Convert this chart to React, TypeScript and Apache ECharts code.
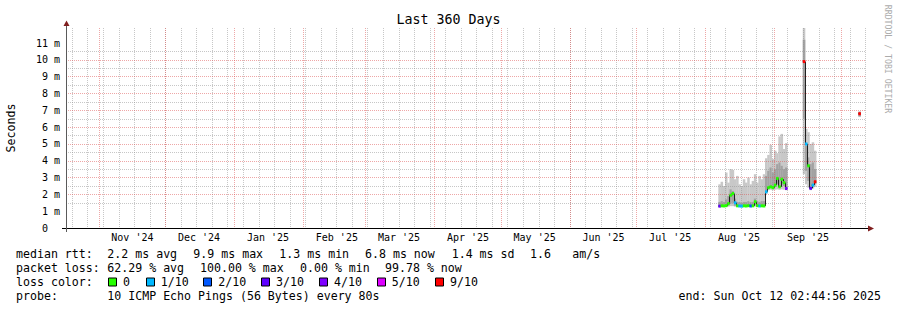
import React, { useEffect, useRef } from 'react';
import * as echarts from 'echarts';

// ---------- time frame ----------
const DAY = 86400000;
const END_TIME = Date.UTC(2025, 9, 12, 2, 44, 56);
const START_TIME = END_TIME - 360 * DAY;
const Y_MAX = 11.9; // ms
const SAMPLE_HOUR = 4;

// ---------- axis ticks ----------
const monthStarts = ['2024-11-01', '2024-12-01', '2025-01-01', '2025-02-01', '2025-03-01', '2025-04-01', '2025-05-01', '2025-06-01', '2025-07-01', '2025-08-01', '2025-09-01', '2025-10-01'];
const monthLabelDates = ['2024-11-16', '2024-12-16', '2025-01-16', '2025-02-16', '2025-03-16', '2025-04-16', '2025-05-16', '2025-06-16', '2025-07-16', '2025-08-16', '2025-09-16'];
const monthLabels = ["Nov '24", "Dec '24", "Jan '25", "Feb '25", "Mar '25", "Apr '25", "May '25", "Jun '25", "Jul '25", "Aug '25", "Sep '25"];
const firstWeekLine = '2024-10-20';
const yMajorTicks = [1, 2, 3, 4, 5, 6, 7, 8, 9, 10, 11];
const yMinorTicks = [0.5, 1.5, 2.5, 3.5, 4.5, 5.5, 6.5, 7.5, 8.5, 9.5, 10.5, 11.5];
const yLabelValues = [0, 1, 2, 3, 4, 5, 6, 7, 8, 9, 10, 11];

// ---------- samples (one per day) ----------
const sampleDates = [
  '2025-08-07', '2025-08-08', '2025-08-09', '2025-08-10', '2025-08-11', '2025-08-12', '2025-08-13', '2025-08-14', '2025-08-15', '2025-08-16', '2025-08-17',
  '2025-08-18', '2025-08-19', '2025-08-20', '2025-08-21', '2025-08-22', '2025-08-23', '2025-08-24', '2025-08-25', '2025-08-26', '2025-08-27',
  '2025-08-28', '2025-08-29', '2025-08-30', '2025-08-31', '2025-09-01', '2025-09-02', '2025-09-03', '2025-09-04', '2025-09-05', '2025-09-06',
  '2025-09-14', '2025-09-15', '2025-09-16', '2025-09-17', '2025-09-18', '2025-09-19',
  '2025-10-09',
];
const medianMs = [
  1.30, 1.32, 1.31, 1.33, 1.45, 1.95, 2.05, 1.50, 1.32, 1.31, 1.30,
  1.32, 1.31, 1.33, 1.31, 1.32, 1.56, 1.33, 1.31, 1.32, 1.31,
  2.15, 2.40, 2.45, 2.40, 2.55, 2.95, 2.45, 2.90, 2.70, 2.35,
  9.9, 5.0, 3.7, 2.36, 2.55, 2.75,
  6.8,
];
const lossTenths = [
  3, 0, 0, 0, 0, 0, 0, 1, 0, 1, 1,
  0, 0, 0, 2, 0, 0, 0, 1, 0, 0,
  1, 0, 0, 0, 0, 0, 0, 0, 0, 4,
  9, 1, 0, 3, 1, 9,
  9,
];
const smokeMin = [
  1.25, 1.26, 1.25, 1.26, 1.27, 1.30, 1.30, 1.27, 1.25, 1.25, 1.24,
  1.25, 1.25, 1.26, 1.25, 1.25, 1.27, 1.26, 1.25, 1.25, 1.25,
  2.05, 2.25, 2.28, 2.25, 2.28, 2.30, 2.27, 2.30, 2.28, 2.25,
  3.2, 2.6, 2.4, 2.25, 2.35, 2.45,
  6.6,
];
const smokeInnerLow = [
  1.28, 1.29, 1.28, 1.30, 1.32, 1.45, 1.50, 1.32, 1.28, 1.28, 1.27,
  1.29, 1.28, 1.29, 1.28, 1.28, 1.35, 1.29, 1.28, 1.28, 1.28,
  2.20, 2.40, 2.45, 2.40, 2.45, 2.60, 2.45, 2.55, 2.50, 2.40,
  6.5, 3.4, 2.8, 2.45, 2.55, 2.65,
  6.65,
];
const smokeInnerHigh = [
  1.55, 1.60, 1.55, 1.70, 1.90, 2.30, 2.20, 1.75, 1.55, 1.55, 1.50,
  1.55, 1.55, 1.60, 1.55, 1.55, 1.75, 1.60, 1.55, 1.60, 1.60,
  3.10, 3.40, 3.60, 3.30, 3.50, 3.80, 3.90, 3.70, 3.50, 3.60,
  11.2, 4.9, 4.2, 3.8, 3.9, 3.5,
  6.9,
];
const smokeMax = [
  2.60, 2.75, 2.50, 3.30, 2.70, 3.50, 3.45, 2.90, 3.10, 2.60, 2.50,
  2.90, 2.70, 3.00, 2.60, 2.80, 3.20, 2.70, 3.10, 2.90, 3.20,
  4.15, 4.35, 4.95, 4.10, 4.60, 4.45, 5.45, 5.60, 4.70, 5.05,
  12.5, 5.9, 5.7, 5.0, 5.1, 4.6,
  6.95,
];

// ---------- legend ----------
const lossThresholds = [0, 1, 2, 3, 4, 5, 9];
const lossLabels = ['0', '1/10', '2/10', '3/10', '4/10', '5/10', '9/10'];
const lossColors = ['#26ff00', '#00b8ff', '#0059ff', '#5e00ff', '#7e00ff', '#dd00ff', '#ff0000'];
const rttStats = ['2.2 ms avg', '9.9 ms max', '1.3 ms min', '6.8 ms now', '1.4 ms sd', '1.6', 'am/s'];
const lossStats = ['62.29 % avg', '100.00 % max', '0.00 % min', '99.78 % now'];
const probeText = '10 ICMP Echo Pings (56 Bytes) every 80s';
const endText = 'end: Sun Oct 12 02:44:56 2025';
const titleText = 'Last 360 Days';

// ---------- layout constants ----------
const GRID_LEFT = 66;
const GRID_TOP = 28;
const GRID_W = 800;
const GRID_H = 200;
const MONO = "'DejaVu Sans Mono', monospace";
const LEG_FS = 11.6;
const rttStatX = [107.3, 193.3, 279.3, 365, 451.7, 530, 572.3];
const lossStatX = [107.3, 200, 300, 385];
const lossBoxX = [108, 146, 203, 261, 319, 377, 435];
const lossTextX = [123, 160.7, 218.3, 276, 334, 391.7, 450];
const ROW_Y = [254.3, 268.3, 282.3, 296.2];
const GRID_GRAY = 'rgba(143,143,143,0.5)';
const GRID_RED = 'rgba(222,79,79,0.5)';
const SMOKE_LIGHT = '#c8c8c8';
const SMOKE_DARK = '#a2a2a2';

const parseDay = (s: string, h = 0) => {
  const [y, m, d] = s.split('-').map(Number);
  return Date.UTC(y, m - 1, d, h);
};

const monthStartTimes = monthStarts.map((s) => parseDay(s));
const labelTimes = monthLabelDates.map((s) => parseDay(s));
const weekTimes: number[] = [];
for (let t = parseDay(firstWeekLine); t <= END_TIME; t += 7 * DAY) weekTimes.push(t);

const sampleTimes = sampleDates.map((s) => parseDay(s, SAMPLE_HOUR));

const lossColorFor = (loss: number) => {
  let idx = 0;
  lossThresholds.forEach((th, i) => {
    if (loss >= th) idx = i;
  });
  return lossColors[idx];
};

// vertical grid: [time, isMonth]
const vGridData = [...weekTimes.map((t) => [t, 0]), ...monthStartTimes.map((t) => [t, 1])];
const smokeData = sampleTimes.map((t, i) => [t, smokeMin[i], smokeInnerLow[i], smokeInnerHigh[i], smokeMax[i]]);
const medianColorData = sampleTimes.map((t, i) => [t, medianMs[i], lossTenths[i]]);
// [time, median, previous median, has previous adjacent sample]
const medianLineData = sampleTimes.map((t, i) => {
  const adj = i > 0 && t - sampleTimes[i - 1] < 1.5 * DAY;
  return [t, medianMs[i], adj ? medianMs[i - 1] : medianMs[i], adj ? 1 : 0];
});

function buildOption(): any {
  const txt = (text: string, x: number, y: number, extra: any = {}) => ({
    type: 'text',
    x,
    y,
    z: 10,
    style: {
      text,
      fill: '#000',
      fontFamily: MONO,
      fontSize: LEG_FS,
      align: 'left',
      verticalAlign: 'middle',
      ...extra,
    },
  });

  const graphics: any[] = [
    txt(titleText, 448.5, 19, { align: 'center', fontSize: 13.3 }),
    { ...txt('Seconds', 0, 0, { align: 'center' }), x: 11, y: 128, rotation: Math.PI / 2 },
    { ...txt('RRDTOOL / TOBI OETIKER', 0, 0, { align: 'center', fontSize: 8.2, fill: '#ababab' }), x: 888, y: 59, rotation: -Math.PI / 2 },
    txt('median rtt:', 16, ROW_Y[0]),
    ...rttStats.map((s, i) => txt(s, rttStatX[i], ROW_Y[0])),
    txt('packet loss:', 16, ROW_Y[1]),
    ...lossStats.map((s, i) => txt(s, lossStatX[i], ROW_Y[1])),
    txt('loss color:', 16, ROW_Y[2]),
    ...lossLabels.map((s, i) => txt(s, lossTextX[i], ROW_Y[2])),
    ...lossColors.map((c, i) => ({
      type: 'rect',
      z: 10,
      shape: { x: lossBoxX[i] + 0.5, y: 278, width: 8, height: 8 },
      style: { fill: c, stroke: '#000', lineWidth: 1 },
    })),
    txt('probe:', 16, ROW_Y[3]),
    txt(probeText, 107.3, ROW_Y[3]),
    txt(endText, 881, ROW_Y[3], { align: 'right' }),
    // axis extensions and arrows
    { type: 'line', z: 10, shape: { x1: 62, y1: GRID_TOP + GRID_H + 0.5, x2: GRID_LEFT + GRID_W + 3, y2: GRID_TOP + GRID_H + 0.5 }, style: { stroke: '#000', lineWidth: 1 } },
    { type: 'line', z: 10, shape: { x1: GRID_LEFT + 0.5, y1: GRID_TOP + GRID_H + 4, x2: GRID_LEFT + 0.5, y2: GRID_TOP - 3 }, style: { stroke: '#5a5a5a', lineWidth: 1 } },
    { type: 'polygon', z: 11, shape: { points: [[GRID_LEFT + GRID_W + 2, GRID_TOP + GRID_H - 2.5], [GRID_LEFT + GRID_W + 2, GRID_TOP + GRID_H + 3.5], [GRID_LEFT + GRID_W + 8, GRID_TOP + GRID_H + 0.5]] }, style: { fill: '#801f1f' } },
    { type: 'polygon', z: 11, shape: { points: [[GRID_LEFT - 2.5, GRID_TOP - 2], [GRID_LEFT + 3.5, GRID_TOP - 2], [GRID_LEFT + 0.5, GRID_TOP - 7.5]] }, style: { fill: '#801f1f' } },
  ];

  return {
    animation: false,
    backgroundColor: '#ffffff',
    grid: { left: GRID_LEFT, top: GRID_TOP, width: GRID_W, height: GRID_H, containLabel: false, outerBoundsMode: 'none' },
    xAxis: [
      {
        type: 'value',
        min: START_TIME,
        max: END_TIME,
        position: 'bottom',
        z: 3,
        axisLine: { show: true, onZero: false, lineStyle: { color: '#000', width: 1 } },
        axisTick: { show: false, customValues: labelTimes },
        splitLine: { show: false },
        axisLabel: {
          show: true,
          customValues: labelTimes,
          margin: 4,
          fontFamily: MONO,
          fontSize: 10,
          color: '#000',
          formatter: (v: number) => {
            const i = labelTimes.indexOf(v);
            return i >= 0 ? monthLabels[i] : '';
          },
        },
      },
    ],
    yAxis: [
      {
        type: 'value',
        min: 0,
        max: Y_MAX,
        position: 'left',
        z: 4,
        axisLine: { show: true, lineStyle: { color: '#5a5a5a', width: 1 } },
        axisTick: { show: false, customValues: yMajorTicks },
        splitLine: { show: true, showMinLine: false, showMaxLine: false, lineStyle: { color: GRID_RED, width: 1, type: [1, 1] } },
        axisLabel: {
          show: true,
          customValues: yLabelValues,
          margin: 6,
          fontFamily: MONO,
          fontSize: 10,
          color: '#000',
          formatter: (v: number) => (v === 0 ? '{z|0}' : `${v} m`),
          rich: { z: { padding: [0, 12, 0, 0], fontFamily: MONO, fontSize: 10, color: '#000' } },
        },
      },
      {
        type: 'value',
        min: 0,
        max: Y_MAX,
        position: 'right',
        z: 3,
        axisLine: { show: false },
        axisTick: { show: false, customValues: yMinorTicks },
        axisLabel: { show: false },
        splitLine: { show: true, showMinLine: false, showMaxLine: false, lineStyle: { color: GRID_GRAY, width: 1, type: [1, 1] } },
      },
    ],
    series: [
      {
        type: 'custom',
        name: 'smoke',
        xAxisIndex: 0,
        yAxisIndex: 0,
        z: 2,
        clip: true,
        silent: true,
        data: smokeData,
        encode: { x: 0, y: [1, 4] },
        renderItem: (params: any, api: any) => {
          const t = api.value(0);
          const a = api.coord([t - DAY / 2, api.value(1)]);
          const b = api.coord([t + DAY / 2, api.value(4)]);
          const c = api.coord([t - DAY / 2, api.value(2)]);
          const d = api.coord([t + DAY / 2, api.value(3)]);
          return {
            type: 'group',
            children: [
              { type: 'rect', shape: { x: a[0], y: b[1], width: b[0] - a[0] + 0.3, height: a[1] - b[1] }, style: { fill: SMOKE_LIGHT } },
              { type: 'rect', shape: { x: c[0], y: d[1], width: d[0] - c[0] + 0.3, height: c[1] - d[1] }, style: { fill: SMOKE_DARK } },
            ],
          };
        },
      },
      {
        type: 'custom',
        name: 'vgrid',
        xAxisIndex: 0,
        yAxisIndex: 0,
        z: 3,
        clip: true,
        silent: true,
        data: vGridData,
        encode: { x: 0 },
        renderItem: (params: any, api: any) => {
          const p = api.coord([api.value(0), 0]);
          const cs = params.coordSys;
          const x = Math.floor(p[0]) + 0.5;
          return {
            type: 'line',
            shape: { x1: x, y1: cs.y, x2: x, y2: cs.y + cs.height },
            style: { stroke: api.value(1) ? GRID_RED : GRID_GRAY, lineWidth: 1, lineDash: [1, 1] },
          };
        },
      },
      {
        type: 'custom',
        name: 'median',
        xAxisIndex: 0,
        yAxisIndex: 0,
        z: 5,
        clip: true,
        silent: true,
        data: medianLineData,
        encode: { x: 0, y: 1 },
        renderItem: (params: any, api: any) => {
          const t = api.value(0);
          const p0 = api.coord([t - DAY / 2, api.value(1)]);
          const p1 = api.coord([t + DAY / 2, api.value(1)]);
          const pPrev = api.coord([t - DAY / 2, api.value(2)]);
          const xl = Math.round(p0[0]) + 0.5;
          const children: any[] = [
            { type: 'line', shape: { x1: p0[0], y1: p0[1], x2: p1[0], y2: p1[1] }, style: { stroke: '#202020', lineWidth: 1 } },
          ];
          if (api.value(3)) {
            children.push({ type: 'line', shape: { x1: xl, y1: pPrev[1], x2: xl, y2: p0[1] }, style: { stroke: '#202020', lineWidth: 1 } });
          }
          return { type: 'group', children };
        },
      },
      {
        type: 'custom',
        name: 'loss',
        xAxisIndex: 0,
        yAxisIndex: 0,
        z: 6,
        clip: true,
        silent: true,
        data: medianColorData,
        encode: { x: 0, y: 1 },
        renderItem: (params: any, api: any) => {
          const t = api.value(0);
          const v = api.value(1);
          const p0 = api.coord([t - DAY / 2, v]);
          const p1 = api.coord([t + DAY / 2, v]);
          return {
            type: 'rect',
            shape: { x: p0[0], y: p0[1] - 1.5, width: p1[0] - p0[0] + 0.3, height: 3 },
            style: { fill: lossColorFor(api.value(2)) },
          };
        },
      },
    ],
    graphic: graphics,
  };
}

export default function App() {
  const ref = useRef<HTMLDivElement>(null);
  useEffect(() => {
    if (!ref.current) return;
    const chart = echarts.init(ref.current, null, { renderer: 'svg', width: 897, height: 310 });
    chart.setOption(buildOption());
    return () => chart.dispose();
  }, []);
  return (
    <div
      ref={ref}
      style={{ position: 'fixed', left: 0, top: 0, width: 897, height: 310, background: '#ffffff' }}
    />
  );
}
